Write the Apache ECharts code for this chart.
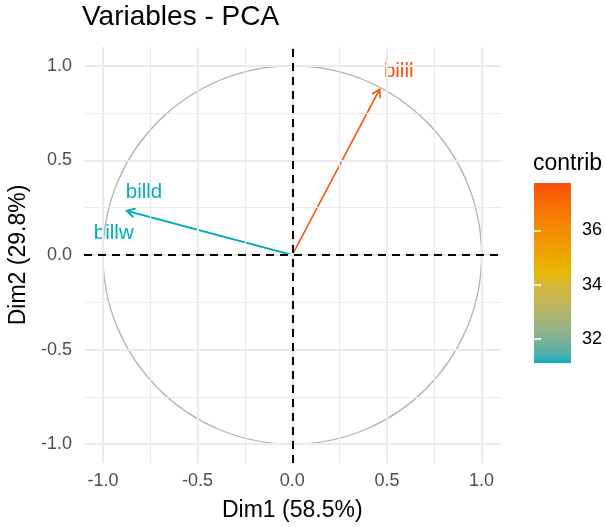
<!DOCTYPE html>
<html>
<head>
<meta charset="utf-8">
<script src="https://cdn.jsdelivr.net/npm/echarts@6/dist/echarts.min.js"></script>
<style>
  html, body { margin: 0; padding: 0; background: #ffffff; }
  #chart { width: 605px; height: 527px; }
</style>
</head>
<body>
<div id="chart"></div>
<script>
// Variable coordinates on the first two principal dimensions
const variables = ['billl', 'billd', 'billw'];
const dim1 = [0.462, -0.873, -0.874];
const dim2 = [0.877, 0.234, 0.233];
const contrib = [37.75, 31.13, 31.12];

// Axis titles and tick values
const axisTitles = ['Dim1 (58.5%)', 'Dim2 (29.8%)'];
const majorTicks = [-1, -0.5, 0, 0.5, 1];
const minorTicks = [-0.75, -0.25, 0.25, 0.75];
const legendTicks = [32, 34, 36];

const palette = ['#00AFBB', '#E7B800', '#FC4E07'];
const FONT = '"Liberation Sans", Arial, sans-serif';

// where each variable name sits relative to its arrow tip
const labelOffset = { billl: [19, -18], billd: [17, -18], billw: [-13, 22] };

// --- colour ramp interpolated in CIE Lab space ---
function hexToRgb(h) {
  const n = parseInt(h.slice(1), 16);
  return [(n >> 16) & 255, (n >> 8) & 255, n & 255];
}
function rgbToLab(rgb) {
  const lin = rgb.map(c => { c /= 255; return c <= 0.04045 ? c / 12.92 : Math.pow((c + 0.055) / 1.055, 2.4); });
  const X = (0.4124 * lin[0] + 0.3576 * lin[1] + 0.1805 * lin[2]) / 0.95047;
  const Y = (0.2126 * lin[0] + 0.7152 * lin[1] + 0.0722 * lin[2]);
  const Z = (0.0193 * lin[0] + 0.1192 * lin[1] + 0.9505 * lin[2]) / 1.08883;
  const f = t => t > 0.008856 ? Math.cbrt(t) : 7.787 * t + 16 / 116;
  const fx = f(X), fy = f(Y), fz = f(Z);
  return [116 * fy - 16, 500 * (fx - fy), 200 * (fy - fz)];
}
function labToHex(lab) {
  const fy = (lab[0] + 16) / 116, fx = fy + lab[1] / 500, fz = fy - lab[2] / 200;
  const inv = t => { const t3 = t * t * t; return t3 > 0.008856 ? t3 : (t - 16 / 116) / 7.787; };
  const X = inv(fx) * 0.95047, Y = inv(fy), Z = inv(fz) * 1.08883;
  const r = 3.2406 * X - 1.5372 * Y - 0.4986 * Z;
  const g = -0.9689 * X + 1.8758 * Y + 0.0415 * Z;
  const b = 0.0557 * X - 0.2040 * Y + 1.0570 * Z;
  const enc = c => {
    c = c <= 0.0031308 ? 12.92 * c : 1.055 * Math.pow(c, 1 / 2.4) - 0.055;
    return Math.max(0, Math.min(255, Math.round(c * 255)));
  };
  return '#' + [r, g, b].map(enc).map(v => v.toString(16).padStart(2, '0')).join('');
}
function labRamp(colors, steps) {
  const labs = colors.map(c => rgbToLab(hexToRgb(c)));
  const out = [];
  for (let i = 0; i < steps; i++) {
    const t = i / (steps - 1) * (labs.length - 1);
    const k = Math.min(Math.floor(t), labs.length - 2);
    const u = t - k;
    out.push(labToHex(labs[k].map((v, j) => v + (labs[k + 1][j] - v) * u)));
  }
  return out;
}
const ramp = labRamp(palette, 41);

const contribMin = Math.min(...contrib);
const contribMax = Math.max(...contrib);

const arrowData = variables.map((v, i) => [dim1[i], dim2[i], contrib[i], v]);

const gridLineData = [
  ...minorTicks.map(v => ({ xAxis: v, lineStyle: { width: 1.2 } })),
  ...minorTicks.map(v => ({ yAxis: v, lineStyle: { width: 1.2 } })),
  ...majorTicks.map(v => ({ xAxis: v, lineStyle: { width: 2 } })),
  ...majorTicks.map(v => ({ yAxis: v, lineStyle: { width: 2 } }))
];

const chart = echarts.init(document.getElementById('chart'), null, { renderer: 'canvas' });

const tickFmt = v => Number(v).toFixed(1);

const option = {
  animation: false,
  backgroundColor: '#ffffff',
  textStyle: { fontFamily: FONT },
  title: [
    {
      text: 'Variables - PCA',
      left: 82, top: 3, padding: 0,
      textStyle: { fontSize: 28, fontWeight: 'normal', color: '#000000', fontFamily: FONT }
    },
    {
      text: 'contrib',
      left: 533, top: 152, padding: 0,
      textStyle: { fontSize: 23, fontWeight: 'normal', color: '#000000', fontFamily: FONT }
    }
  ],
  grid: [
    { left: 84, right: 104.5, top: 47, bottom: 64, containLabel: false, outerBoundsMode: 'none' },
    {
      left: 534, top: 183, width: 37, height: 180, containLabel: false, outerBoundsMode: 'none',
      show: true, borderWidth: 0,
      backgroundColor: {
        type: 'linear', x: 0, y: 1, x2: 0, y2: 0,
        colorStops: ramp.map((c, i) => ({ offset: i / (ramp.length - 1), color: c }))
      }
    }
  ],
  xAxis: [
    {
      type: 'value', gridIndex: 0, min: -1.1, max: 1.1,
      name: axisTitles[0], nameLocation: 'middle', nameGap: 36,
      nameTextStyle: { fontSize: 23, color: '#000000', fontFamily: FONT },
      axisLine: { show: false },
      axisTick: { show: true, length: 5.5, customValues: majorTicks, lineStyle: { color: '#333333', width: 2 } },
      axisLabel: { customValues: majorTicks, formatter: tickFmt, margin: 9, fontSize: 18, color: '#4D4D4D', fontFamily: FONT },
      splitLine: { show: false }
    },
    { type: 'value', gridIndex: 1, min: 0, max: 1, show: false }
  ],
  yAxis: [
    {
      type: 'value', gridIndex: 0, min: -1.1, max: 1.1,
      name: axisTitles[1], nameLocation: 'middle', nameGap: 50, nameRotate: 90,
      nameTextStyle: { fontSize: 23, color: '#000000', fontFamily: FONT },
      axisLine: { show: false },
      axisTick: { show: true, length: 5.5, customValues: majorTicks, lineStyle: { color: '#333333', width: 2 } },
      axisLabel: { customValues: majorTicks, formatter: tickFmt, margin: 12, fontSize: 18, color: '#4D4D4D', fontFamily: FONT },
      splitLine: { show: false }
    },
    {
      type: 'value', gridIndex: 1, position: 'right', min: contribMin, max: contribMax,
      axisLine: { show: false },
      axisTick: { show: true, inside: true, length: 7, customValues: legendTicks, lineStyle: { color: '#ffffff', width: 1.5 } },
      axisLabel: { customValues: legendTicks, margin: 11, fontSize: 18, color: '#000000', fontFamily: FONT },
      splitLine: { show: false }
    },
    {
      type: 'value', gridIndex: 1, position: 'left', min: contribMin, max: contribMax,
      axisLine: { show: false },
      axisTick: { show: true, inside: true, length: 7, customValues: legendTicks, lineStyle: { color: '#ffffff', width: 1.5 } },
      axisLabel: { show: false },
      splitLine: { show: false }
    }
  ],
  visualMap: {
    type: 'continuous', show: false,
    seriesIndex: 3, dimension: 2,
    min: contribMin, max: contribMax,
    inRange: { color: ramp }
  },
  series: [
    // panel grid lines
    {
      type: 'line', xAxisIndex: 0, yAxisIndex: 0, data: [[0, 0]], showSymbol: false,
      lineStyle: { opacity: 0 }, silent: true, z: 1,
      markLine: {
        silent: true, symbol: ['none', 'none'], label: { show: false },
        emphasis: { disabled: true }, animation: false,
        lineStyle: { color: '#EBEBEB', type: 'solid' },
        data: gridLineData
      }
    },
    // unit correlation circle
    {
      type: 'custom', xAxisIndex: 0, yAxisIndex: 0, data: [[0, 0, 1]], silent: true, z: 2,
      renderItem: (params, api) => {
        const c = api.coord([api.value(0), api.value(1)]);
        const s = api.size([api.value(2), api.value(2)]);
        return {
          type: 'ellipse',
          shape: { cx: c[0], cy: c[1], rx: s[0], ry: s[1] },
          style: { stroke: '#B3B3B3', fill: null, lineWidth: 1.3 }
        };
      }
    },
    // dashed reference lines through the origin
    {
      type: 'line', xAxisIndex: 0, yAxisIndex: 0, data: [[0, 0]], showSymbol: false,
      lineStyle: { opacity: 0 }, silent: true, z: 3,
      markLine: {
        silent: true, symbol: ['none', 'none'], label: { show: false },
        emphasis: { disabled: true }, animation: false,
        lineStyle: { color: '#000000', type: [8, 6], width: 2 },
        data: [{ xAxis: 0 }, { yAxis: 0 }]
      }
    },
    // variable arrows, coloured by contribution
    {
      type: 'custom', xAxisIndex: 0, yAxisIndex: 0, data: arrowData, silent: true, z: 4,
      encode: { x: 0, y: 1 },
      renderItem: (params, api) => {
        const name = variables[params.dataIndex];
        const p0 = api.coord([0, 0]);
        const p1 = api.coord([api.value(0), api.value(1)]);
        const color = api.visual('color');
        const ang = Math.atan2(p1[1] - p0[1], p1[0] - p0[0]);
        const L = 9, a = Math.PI / 6;
        const h1 = [p1[0] - L * Math.cos(ang - a), p1[1] - L * Math.sin(ang - a)];
        const h2 = [p1[0] - L * Math.cos(ang + a), p1[1] - L * Math.sin(ang + a)];
        const off = labelOffset[name];
        return {
          type: 'group',
          children: [
            { type: 'line', shape: { x1: p0[0], y1: p0[1], x2: p1[0], y2: p1[1] },
              style: { stroke: color, lineWidth: 1.6 } },
            { type: 'polyline', shape: { points: [h1, p1, h2] },
              style: { stroke: color, fill: null, lineWidth: 1.6 } },
            { type: 'text', x: p1[0] + off[0], y: p1[1] + off[1],
              style: { text: name, fill: color, fontSize: 20.5, fontFamily: FONT,
                       align: 'center', verticalAlign: 'middle' } }
          ]
        };
      }
    }
  ]
};

chart.setOption(option);
</script>
</body>
</html>
